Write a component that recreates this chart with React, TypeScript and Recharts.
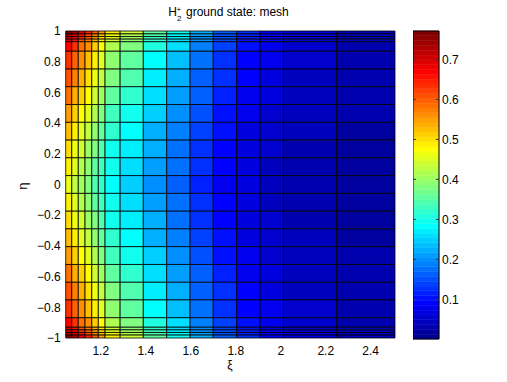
import React from 'react';
import { ComposedChart, XAxis, YAxis, ReferenceArea, ReferenceLine, Customized } from 'recharts';

// Mesh edges (xi columns, eta rows from top to bottom)
const XI_EDGES = [1.044, 1.071, 1.1, 1.13, 1.16, 1.189, 1.219, 1.286, 1.389, 1.493, 1.597, 1.7, 1.804, 1.908, 2.012, 2.249, 2.508];
const ETA_EDGES = [1, 0.981, 0.964, 0.947, 0.93, 0.868, 0.752, 0.637, 0.521, 0.405, 0.289, 0.174, 0.058, -0.058, -0.174, -0.289, -0.405, -0.521, -0.637, -0.752, -0.868, -0.93, -0.947, -0.964, -0.981, -1];

const X_TICKS = [1.2, 1.4, 1.6, 1.8, 2, 2.2, 2.4];
const Y_TICKS = [-1, -0.8, -0.6, -0.4, -0.2, 0, 0.2, 0.4, 0.6, 0.8, 1];
const CBAR_TICKS = [0.1, 0.2, 0.3, 0.4, 0.5, 0.6, 0.7];
const C_MIN = 0.001;
const C_MAX = 0.771;

// Cell values, one array per mesh row (16 xi columns each)
const ROW_A = [0.766, 0.723, 0.682, 0.643, 0.597, 0.551, 0.488, 0.440, 0.358, 0.299, 0.224, 0.165, 0.124, 0.096, 0.069, 0.045];
const ROW_B = [0.733, 0.691, 0.651, 0.614, 0.569, 0.525, 0.465, 0.419, 0.341, 0.284, 0.212, 0.156, 0.118, 0.090, 0.065, 0.042];
const ROW_C = [0.709, 0.667, 0.628, 0.592, 0.548, 0.505, 0.447, 0.403, 0.328, 0.273, 0.204, 0.149, 0.112, 0.086, 0.062, 0.040];
const ROW_D = [0.692, 0.651, 0.613, 0.577, 0.534, 0.492, 0.436, 0.392, 0.319, 0.265, 0.198, 0.145, 0.109, 0.083, 0.060, 0.039];
const ROW_E = [0.667, 0.627, 0.590, 0.555, 0.514, 0.473, 0.418, 0.376, 0.306, 0.254, 0.189, 0.138, 0.104, 0.079, 0.057, 0.037];
const ROW_F = [0.635, 0.595, 0.559, 0.525, 0.486, 0.447, 0.395, 0.355, 0.288, 0.239, 0.178, 0.129, 0.097, 0.074, 0.053, 0.034];
const ROW_G = [0.608, 0.569, 0.534, 0.502, 0.464, 0.426, 0.376, 0.338, 0.274, 0.227, 0.168, 0.122, 0.091, 0.069, 0.049, 0.032];
const ROW_H = [0.579, 0.540, 0.507, 0.475, 0.439, 0.403, 0.355, 0.318, 0.258, 0.214, 0.158, 0.114, 0.085, 0.064, 0.046, 0.029];
const ROW_I = [0.549, 0.511, 0.479, 0.449, 0.414, 0.379, 0.334, 0.299, 0.242, 0.201, 0.148, 0.106, 0.079, 0.059, 0.042, 0.027];
const ROW_J = [0.523, 0.485, 0.454, 0.425, 0.391, 0.359, 0.315, 0.282, 0.228, 0.189, 0.138, 0.099, 0.073, 0.055, 0.039, 0.024];
const ROW_K = [0.503, 0.466, 0.436, 0.407, 0.375, 0.343, 0.301, 0.269, 0.218, 0.180, 0.132, 0.094, 0.069, 0.052, 0.036, 0.023];
const ROW_L = [0.486, 0.450, 0.420, 0.393, 0.361, 0.330, 0.290, 0.259, 0.209, 0.172, 0.126, 0.089, 0.065, 0.049, 0.034, 0.021];
const ROW_M = [0.470, 0.434, 0.405, 0.378, 0.347, 0.317, 0.278, 0.248, 0.200, 0.165, 0.120, 0.085, 0.062, 0.046, 0.032, 0.020];

const ROWS = [ROW_A, ROW_B, ROW_C, ROW_D, ROW_E, ROW_F, ROW_G, ROW_H, ROW_I, ROW_J, ROW_K, ROW_L, ROW_M,
  ROW_L, ROW_K, ROW_J, ROW_I, ROW_H, ROW_G, ROW_F, ROW_E, ROW_D, ROW_C, ROW_B, ROW_A];

const FONT = '"Liberation Sans", Arial, Helvetica, sans-serif';

const clamp = (v: number) => Math.max(0, Math.min(1, v));
function jetIndex(k: number) {
  const t = k / 64;
  const r = clamp(1.5 - Math.abs(4 * t - 3));
  const g = clamp(1.5 - Math.abs(4 * t - 2));
  const b = clamp(1.5 - Math.abs(4 * t - 1));
  return `rgb(${Math.round(r * 255)},${Math.round(g * 255)},${Math.round(b * 255)})`;
}
function jet(v: number) {
  let k = Math.floor(((v - C_MIN) / (C_MAX - C_MIN)) * 64) + 1;
  k = Math.max(1, Math.min(64, k));
  return jetIndex(k);
}

const fmt = (v: number) => (v < 0 ? '\u2212' : '') + String(Math.abs(v));

const cells: { x1: number; x2: number; y1: number; y2: number; v: number }[] = [];
ROWS.forEach((row, r) => {
  row.forEach((v, c) => {
    cells.push({ x1: XI_EDGES[c], x2: XI_EDGES[c + 1], y1: ETA_EDGES[r + 1], y2: ETA_EDGES[r], v });
  });
});

const levels = Array.from({ length: 64 }, (_, i) => i);

const Texts = () => (
  <g fontFamily={FONT} fill="#000">
    <text x={168.3} y={15.7} fontSize={12}>H</text>
    <text x={177} y={20.7} fontSize={8}>2</text>
    <text x={176.5} y={12} fontSize={8}>+</text>
    <text x={186} y={15.7} fontSize={12}>ground state: mesh</text>
    <text x={230} y={369} fontSize={12} textAnchor="middle">ξ</text>
    <text x={27} y={186} fontSize={13} textAnchor="middle" transform="rotate(-90, 27, 186)">η</text>
  </g>
);

export default function App() {
  const tickStyle = { fontSize: 12, fill: '#000', fontFamily: FONT };
  return (
    <div style={{ position: 'absolute', left: 0, top: 0, width: 507, height: 382, background: '#fff', fontFamily: FONT }}>
      <div style={{ position: 'absolute', left: 0, top: 0 }}>
        <ComposedChart width={507} height={382} margin={{ top: 31, right: 112, bottom: 0, left: 0 }} data={[]}>
          <XAxis type="number" dataKey="x" domain={[1.044, 2.508]} ticks={X_TICKS} allowDataOverflow
            interval={0} tickLine={false} axisLine={false} tickSize={0} tickMargin={8} height={44} tick={tickStyle} />
          <YAxis type="number" dataKey="y" domain={[-1, 1]} ticks={Y_TICKS} allowDataOverflow
            interval={0} tickLine={false} axisLine={false} tickSize={0} tickMargin={5} width={65.7} tick={tickStyle}
            tickFormatter={fmt} />
          {cells.map((c, i) => (
            <ReferenceArea key={i} x1={c.x1} x2={c.x2} y1={c.y1} y2={c.y2} fill={jet(c.v)} fillOpacity={1}
              stroke="#000" strokeOpacity={0.8} strokeWidth={1} ifOverflow="visible" />
          ))}
          <Customized component={Texts} />
        </ComposedChart>
      </div>
      <div style={{ position: 'absolute', left: 413, top: 0 }}>
        <ComposedChart width={94} height={382} margin={{ top: 31, right: 0, bottom: 43, left: 0 }} data={[]}>
          <XAxis type="number" dataKey="x" domain={[0, 1]} hide allowDataOverflow />
          <YAxis type="number" dataKey="y" orientation="right" domain={[C_MIN, C_MAX]} ticks={CBAR_TICKS} allowDataOverflow
            interval={0} tickLine={false} axisLine={false} tickSize={0} tickMargin={3} width={68} tick={tickStyle} />
          {levels.map((i) => (
            <ReferenceArea key={i} x1={0} x2={1}
              y1={C_MIN + (i * (C_MAX - C_MIN)) / 64} y2={C_MIN + ((i + 1) * (C_MAX - C_MIN)) / 64}
              fill={jetIndex(i + 1)} fillOpacity={1} stroke={jetIndex(i + 1)} strokeWidth={0.5} ifOverflow="visible" />
          ))}
          {CBAR_TICKS.map((t) => (
            <ReferenceLine key={'l' + t} segment={[{ x: 0, y: t }, { x: 0.12, y: t }]} stroke="#333" strokeWidth={1} ifOverflow="visible" />
          ))}
          {CBAR_TICKS.map((t) => (
            <ReferenceLine key={'r' + t} segment={[{ x: 0.88, y: t }, { x: 1, y: t }]} stroke="#333" strokeWidth={1} ifOverflow="visible" />
          ))}
          <ReferenceArea x1={0} x2={1} y1={C_MIN} y2={C_MAX} fill="none" fillOpacity={0} stroke="#000" strokeWidth={1} ifOverflow="visible" />
        </ComposedChart>
      </div>
    </div>
  );
}
